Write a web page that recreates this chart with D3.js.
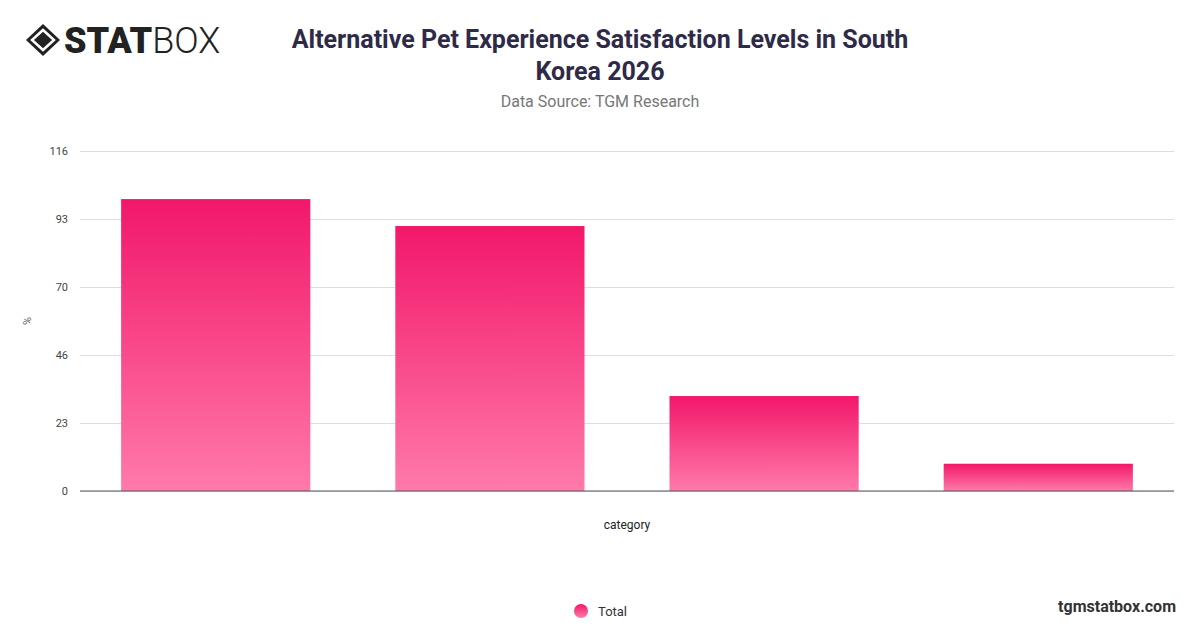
<!DOCTYPE html>
<html>
<head>
<meta charset="utf-8">
<script src="https://cdn.jsdelivr.net/npm/d3@7"></script>
<style>
  body { margin: 0; background: #fff; font-family: Roboto, "Noto Sans", sans-serif; }
</style>
</head>
<body>
<div id="chart"></div>
<script>
// chart data
const categories = ["Very Satisfied", "Satisfied", "Neutral", "Dissatisfied"];
const values = [99.6, 90.4, 32.4, 9.3];
const yTicks = [0, 23.2, 46.4, 69.6, 92.8, 116];
const seriesName = "Total";

const width = 1200, height = 628;
const margin = { top: 151, right: 26, bottom: 137, left: 80 };

const svg = d3.select("#chart").append("svg")
    .attr("width", width)
    .attr("height", height);

const defs = svg.append("defs");
const grad = defs.append("linearGradient")
    .attr("id", "barGrad")
    .attr("x1", 0).attr("y1", 0).attr("x2", 0).attr("y2", 1);
grad.append("stop").attr("offset", "0%").attr("stop-color", "#f2176a");
grad.append("stop").attr("offset", "100%").attr("stop-color", "#ff7aaa");

// logo
const logo = svg.append("g").attr("transform", "translate(26,24)");
logo.append("path")
    .attr("d", "M17,0 L34,16 L17,32 L0,16 Z")
    .attr("fill", "#222");
logo.append("path")
    .attr("d", "M17,6 L28,16 L17,26 L6,16 Z")
    .attr("fill", "none").attr("stroke", "#fff").attr("stroke-width", 2.5);
logo.append("text")
    .attr("x", 38).attr("y", 29)
    .attr("font-family", "Roboto, sans-serif")
    .attr("font-size", 36)
    .attr("fill", "#222")
    .html('<tspan font-weight="900">STAT</tspan><tspan font-weight="300">BOX</tspan>');

// title
svg.append("text")
    .attr("x", 600).attr("y", 48)
    .attr("text-anchor", "middle")
    .attr("font-size", 25).attr("font-weight", 700)
    .attr("fill", "#2e2a47")
    .text("Alternative Pet Experience Satisfaction Levels in South");
svg.append("text")
    .attr("x", 600).attr("y", 80)
    .attr("text-anchor", "middle")
    .attr("font-size", 25).attr("font-weight", 700)
    .attr("fill", "#2e2a47")
    .text("Korea 2026");
svg.append("text")
    .attr("x", 600).attr("y", 107)
    .attr("text-anchor", "middle")
    .attr("font-size", 16)
    .attr("fill", "#777")
    .text("Data Source: TGM Research");

const x = d3.scaleBand()
    .domain(categories)
    .range([margin.left, width - margin.right])
    .paddingInner(0.31)
    .paddingOuter(0.15);

const y = d3.scaleLinear()
    .domain([0, 116])
    .range([height - margin.bottom, margin.top]);

// grid + y labels
const yAxis = svg.append("g")
    .attr("transform", `translate(${margin.left},0)`)
    .call(d3.axisLeft(y).tickValues(yTicks)
        .tickSize(-(width - margin.left - margin.right))
        .tickPadding(12)
        .tickFormat(d => Math.round(d)));
yAxis.select(".domain").remove();
yAxis.selectAll("line").attr("stroke", "#ddd");
yAxis.selectAll("text").attr("fill", "#444").attr("font-size", 11)
    .attr("font-family", "Roboto, sans-serif");

svg.append("text")
    .attr("transform", `translate(31,${(margin.top + height - margin.bottom) / 2}) rotate(-90)`)
    .attr("text-anchor", "middle")
    .attr("font-size", 11).attr("fill", "#666")
    .text("%");

// bars
svg.append("g").selectAll("rect")
    .data(values)
    .enter().append("rect")
    .attr("x", (d, i) => x(categories[i]))
    .attr("y", d => y(d))
    .attr("width", x.bandwidth())
    .attr("height", d => y(0) - y(d))
    .attr("fill", "url(#barGrad)");

// x baseline
svg.append("line")
    .attr("x1", margin.left).attr("x2", width - margin.right)
    .attr("y1", y(0)).attr("y2", y(0))
    .attr("stroke", "#555").attr("stroke-width", 1);

svg.append("text")
    .attr("x", (margin.left + width - margin.right) / 2).attr("y", 529)
    .attr("text-anchor", "middle")
    .attr("font-size", 12).attr("fill", "#222")
    .text("category");

// legend
svg.append("circle")
    .attr("cx", 581).attr("cy", 611).attr("r", 7)
    .attr("fill", "url(#barGrad)");
svg.append("text")
    .attr("x", 598).attr("y", 616)
    .attr("font-size", 13).attr("fill", "#333")
    .text(seriesName);

svg.append("text")
    .attr("x", 1176).attr("y", 612)
    .attr("text-anchor", "end")
    .attr("font-size", 16).attr("font-weight", 700)
    .attr("fill", "#333")
    .text("tgmstatbox.com");
</script>
</body>
</html>
